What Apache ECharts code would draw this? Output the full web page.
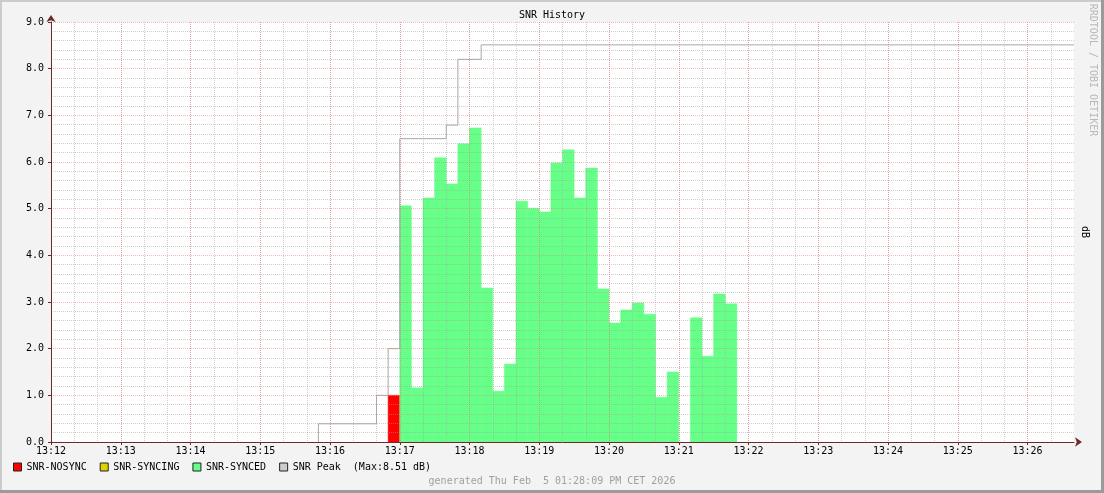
<!DOCTYPE html>
<html>
<head>
<meta charset="utf-8">
<script src="https://cdn.jsdelivr.net/npm/echarts@6/dist/echarts.min.js"></script>
<style>
  html, body { margin: 0; padding: 0; background: #f3f3f3; }
  #chart { width: 1104px; height: 493px; }
</style>
</head>
<body>
<div id="chart"></div>
<script>
// time axis: 13:12:00 .. 13:26:40, samples every 10 s
const axisStart = '13:12:00';
const axisEnd = '13:26:40';
const stepSec = 10;

// SNR-NOSYNC (red)
const nosyncStart = '13:16:50';
const nosyncValues = [1.0];

// SNR-SYNCING (yellow) - no samples in this window
const syncingStart = '13:17:00';
const syncingValues = [];

// SNR-SYNCED (green), one value per 10 s slot, null = no data
const syncedStart = '13:17:00';
const syncedValues = [
  5.06, 1.16, 5.23, 6.09, 5.53, 6.39, 6.73, 3.30, 1.09, 1.67,
  5.16, 5.01, 4.93, 5.98, 6.26, 5.23, 5.87, 3.28, 2.55, 2.83,
  2.98, 2.74, 0.96, 1.50, null, 2.66, 1.84, 3.17, 2.96
];

// SNR Peak (grey step line)
const peakTimes = ['13:15:50', '13:15:50', '13:16:40', '13:16:50', '13:17:00', '13:17:40', '13:17:50', '13:18:10', '13:26:40'];
const peakValues = [0, 0.39, 1.0, 2.0, 6.5, 6.79, 8.2, 8.51, 8.51];

const yTicks = [0, 9, 1];  // min, max, interval

const font = 'DejaVu Sans Mono';

function toSec(s) {
  const p = s.split(':').map(Number);
  return p[0] * 3600 + p[1] * 60 + p[2];
}
const base = toSec(axisStart);
const rel = s => toSec(s) - base;
function pad(n) { return (n < 10 ? '0' : '') + n; }
function timeLabel(v) {
  if (v % 60 !== 0) return '';
  const t = base + v;
  return pad(Math.floor(t / 3600)) + ':' + pad(Math.floor(t / 60) % 60);
}

function slots(start, vals) {
  const s0 = rel(start);
  const out = [];
  vals.forEach((v, i) => { if (v != null) out.push([s0 + i * stepSec, v]); });
  return out;
}

function barSeries(name, color, data) {
  return {
    name: name,
    type: 'custom',
    xAxisIndex: 0,
    itemStyle: { color: color },
    encode: { x: 0, y: 1 },
    data: data,
    renderItem: function (params, api) {
      const t = api.value(0), v = api.value(1);
      const p0 = api.coord([t, v]);
      const p1 = api.coord([t + stepSec, 0]);
      return {
        type: 'rect',
        shape: { x: p0[0], y: p0[1], width: p1[0] - p0[0], height: p1[1] - p0[1] },
        style: { fill: color, stroke: color, lineWidth: 0.5 }
      };
    }
  };
}

const peakMax = Math.max.apply(null, peakValues);
const xMax = rel(axisEnd);

const chart = echarts.init(document.getElementById('chart'));
chart.setOption({
  animation: false,
  backgroundColor: '#f3f3f3',
  textStyle: { fontFamily: font, fontSize: 10 },
  title: {
    text: 'SNR History', left: 'center', top: 5,
    textStyle: { fontFamily: font, fontSize: 10, fontWeight: 'normal', color: '#000' }
  },
  grid: { left: 51, right: 30, top: 22, bottom: 51, show: true, backgroundColor: '#ffffff', borderWidth: 0 },
  legend: {
    left: 13, top: 462, padding: 0, icon: 'rect', itemWidth: 8, itemHeight: 8, itemGap: 13,
    itemStyle: { borderColor: '#222', borderWidth: 1 },
    textStyle: { fontFamily: font, fontSize: 10, color: '#000' },
    formatter: name => name === 'SNR Peak' ? name + '  (Max:' + peakMax.toFixed(2) + ' dB)' : name,
    data: ['SNR-NOSYNC', 'SNR-SYNCING', 'SNR-SYNCED', 'SNR Peak']
  },
  xAxis: [
    {
      type: 'value', min: 0, max: xMax, interval: 60, z: 4,
      axisLine: { lineStyle: { color: '#6a2a2a', width: 1 }, symbol: ['none', 'arrow'], symbolSize: [7, 7], symbolOffset: [0, 8] },
      axisTick: { show: true, length: 3, lineStyle: { color: '#6a2a2a' } },
      axisLabel: { margin: 4, color: '#000', fontFamily: font, fontSize: 10, formatter: timeLabel, showMaxLabel: false },
      splitLine: { show: true, showMinLine: false, showMaxLine: false, lineStyle: { color: 'rgba(240,120,120,0.5)', type: [1, 1], width: 1 } }
    },
    {
      type: 'value', min: 0, max: xMax, interval: 20, z: 3, position: 'bottom',
      axisLine: { show: false }, axisTick: { show: false }, axisLabel: { show: false },
      splitLine: { show: true, showMinLine: false, showMaxLine: false, lineStyle: { color: 'rgba(160,160,160,0.5)', type: [1, 1], width: 1 } }
    }
  ],
  yAxis: {
    type: 'value', min: yTicks[0], max: yTicks[1], interval: yTicks[2], z: 4,
    axisLine: { show: true, lineStyle: { color: '#6a2a2a', width: 1 }, symbol: ['none', 'arrow'], symbolSize: [7, 7], symbolOffset: [0, 7] },
    axisTick: { show: true, length: 3, lineStyle: { color: '#6a2a2a' } },
    axisLabel: { margin: 7, color: '#000', fontFamily: font, fontSize: 10, formatter: v => v.toFixed(1) },
    splitLine: { show: true, showMinLine: false, lineStyle: { color: 'rgba(240,120,120,0.5)', type: [1, 1], width: 1 } },
    minorTick: { show: false, splitNumber: 5 },
    minorSplitLine: { show: true, lineStyle: { color: 'rgba(160,160,160,0.5)', type: [1, 1], width: 1 } }
  },
  series: [
    barSeries('SNR-NOSYNC', '#ff0000', slots(nosyncStart, nosyncValues)),
    barSeries('SNR-SYNCING', '#e0d400', slots(syncingStart, syncingValues)),
    barSeries('SNR-SYNCED', '#66ff88', slots(syncedStart, syncedValues)),
    {
      name: 'SNR Peak', type: 'line', step: 'end', xAxisIndex: 0,
      showSymbol: false, symbol: 'none',
      itemStyle: { color: '#cccccc' },
      lineStyle: { color: '#a8a8a8', width: 1 },
      data: peakTimes.map((t, i) => [rel(t), peakValues[i]])
    }
  ],
  graphic: [
    { type: 'rect', left: 0, top: 0, shape: { width: 1104, height: 2 }, style: { fill: '#cbcbcb' } },
    { type: 'rect', left: 0, top: 0, shape: { width: 2, height: 493 }, style: { fill: '#cbcbcb' } },
    { type: 'rect', left: 0, top: 490, shape: { width: 1104, height: 3 }, style: { fill: '#9a9a9a' } },
    { type: 'rect', left: 1101, top: 0, shape: { width: 3, height: 493 }, style: { fill: '#9a9a9a' } },
    { type: 'text', x: 1093, y: 70, rotation: -Math.PI / 2,
      style: { text: 'RRDTOOL / TOBI OETIKER', fill: '#b8b8b8', font: '10px "DejaVu Sans Mono"', textAlign: 'center', textVerticalAlign: 'middle' } },
    { type: 'text', x: 1085, y: 232, rotation: -Math.PI / 2,
      style: { text: 'dB', fill: '#000', font: '10px "DejaVu Sans Mono"', textAlign: 'center', textVerticalAlign: 'middle' } },
    { type: 'text', x: 552, y: 481,
      style: { text: 'generated Thu Feb  5 01:28:09 PM CET 2026', fill: '#a0a0a0', font: '10px "DejaVu Sans Mono"', textAlign: 'center', textVerticalAlign: 'middle' } }
  ]
});
</script>
</body>
</html>
